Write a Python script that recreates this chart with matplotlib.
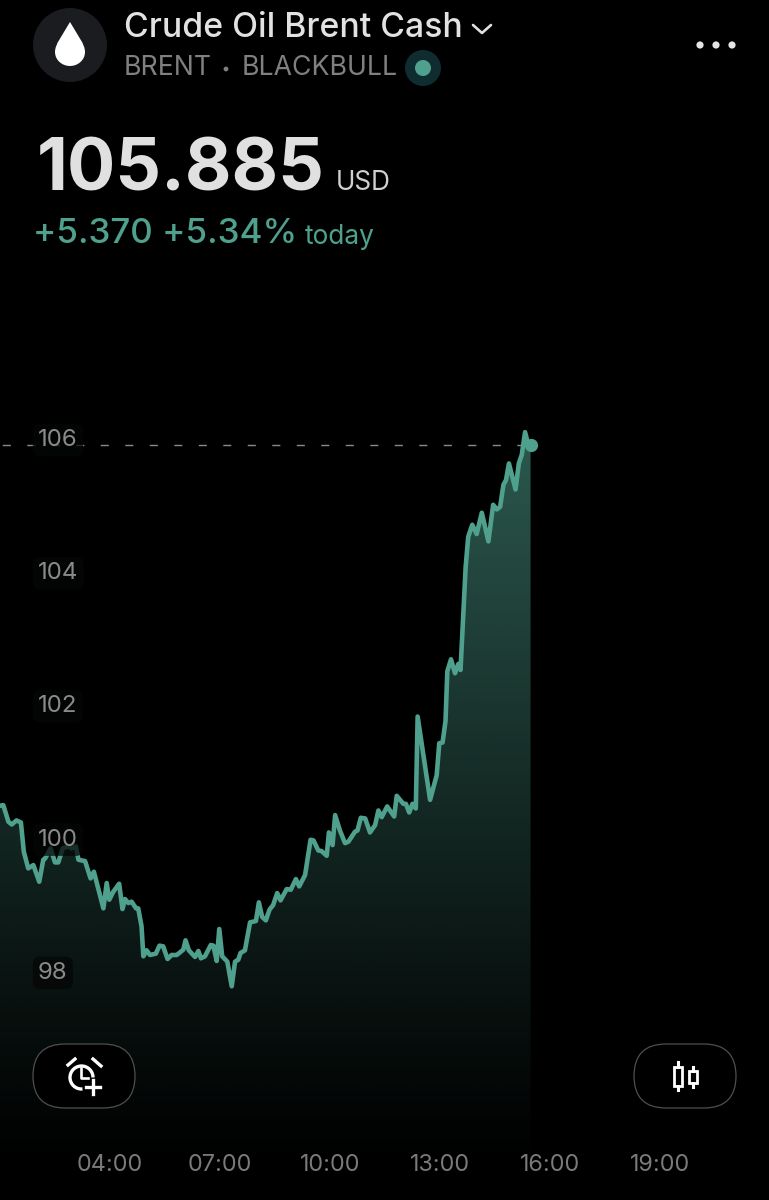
import numpy as np
import matplotlib
matplotlib.use("Agg")
import matplotlib.pyplot as plt
from matplotlib.patches import Circle, FancyBboxPatch, PathPatch, Rectangle, Arc
from matplotlib.path import Path

plt.rcParams['font.family'] = ['Inter', 'DejaVu Sans']

# ---------- data ----------
hours = [1.00,1.09,1.23,1.32,1.45,1.57,1.65,1.77,1.91,2.07,2.18,2.23,2.38,2.50,2.59,2.71,2.86,2.95,3.07,3.14,
         3.32,3.47,3.56,3.82,3.91,3.98,4.09,4.25,4.34,4.41,4.50,4.59,4.71,4.77,4.86,4.91,5.00,5.09,5.25,5.35,
         5.45,5.57,5.68,5.82,6.00,6.06,6.15,6.32,6.41,6.48,6.59,6.75,6.82,6.91,6.98,7.06,7.20,7.32,7.41,7.50,
         7.56,7.68,7.82,7.98,8.06,8.15,8.25,8.35,8.45,8.56,8.65,8.82,8.93,9.07,9.16,9.32,9.47,9.55,9.68,9.77,
         9.91,9.97,10.07,10.14,10.27,10.41,10.50,10.68,10.75,10.84,10.96,11.09,11.23,11.32,11.41,11.56,11.75,11.82,12.00,12.07,
         12.16,12.25,12.34,12.39,12.73,12.91,12.98,13.07,13.15,13.20,13.30,13.41,13.50,13.56,13.64,13.70,13.77,13.88,14.00,14.14,
         14.32,14.45,14.55,14.64,14.73,14.80,14.88,15.06,15.15,15.23,15.32,15.41,15.47]
prices = [100.47,100.48,100.23,100.19,100.25,100.22,99.78,99.53,99.58,99.33,99.66,99.68,99.83,99.62,99.62,99.83,99.86,99.83,99.86,99.66,
          99.64,99.38,99.48,98.93,99.31,99.06,99.18,99.30,98.92,99.07,99.01,99.03,98.93,98.93,98.66,98.21,98.30,98.23,98.25,98.37,
          98.36,98.17,98.23,98.23,98.31,98.45,98.30,98.20,98.29,98.18,98.21,98.38,98.37,98.14,98.62,98.21,98.13,97.76,98.13,98.16,
          98.26,98.30,98.72,98.74,99.02,98.80,98.75,98.91,98.98,99.16,99.05,99.22,99.21,99.37,99.26,99.43,99.96,99.95,99.80,99.79,
          99.72,100.07,99.88,100.33,100.10,99.91,99.93,100.08,100.10,100.29,100.28,100.07,100.18,100.40,100.30,100.46,100.31,100.62,100.50,100.50,
          100.37,100.50,100.43,101.81,100.56,100.93,101.41,101.42,101.74,102.49,102.67,102.46,102.60,102.51,103.41,104.06,104.51,104.69,104.55,104.87,
          104.44,104.99,104.92,104.96,105.29,105.36,105.61,105.22,105.61,105.74,106.08,105.89,105.885]
y_ticks = [98, 100, 102, 104, 106]
x_ticks = [4, 7, 10, 13, 16, 19]
x_labels = ['04:00', '07:00', '10:00', '13:00', '16:00', '19:00']
last_price = 105.885

title_text = 'Crude Oil Brent Cash'
sub_left = 'BRENT'
sub_right = 'BLACKBULL'
price_text = '105.885'
unit_text = 'USD'
change_text = '+5.370 +5.34%'
today_text = 'today'

GREEN = '#4fa18e'
W, H = 769, 1200
fig = plt.figure(figsize=(W/100, H/100), dpi=100, facecolor='black')

# ---------- chart ----------
ax = fig.add_axes([0, 0, 1, 1], facecolor='black')
px_per_hour = 110/3
px_per_unit = 66.6
xlim = (4 - 110/px_per_hour, 4 + (W-110)/px_per_hour)
ylim = (106 - (H-437.5)/px_per_unit, 106 + 437.5/px_per_unit)

poly = ax.fill_between(hours, prices, ylim[0], color='none', lw=0)
n = 256
grad = np.zeros((n, 1, 4))
grad[..., 0] = 0x4f/255; grad[..., 1] = 0xa1/255; grad[..., 2] = 0x8e/255
grad[:, 0, 3] = 0.56*np.linspace(1, 0, n)**1.1
im = ax.imshow(grad, extent=(hours[0], hours[-1], 95.0, 106.2), origin='upper', aspect='auto', zorder=1, interpolation='bilinear')
cp = Path(np.vstack(poly.get_paths()[0].vertices))
im.set_clip_path(cp, transform=ax.transData)

ax.plot([xlim[0], hours[-1]], [last_price, last_price], color='#8a8a8a', lw=1.0, linestyle=(16, (5.8, 11.84)), zorder=1.8)
ax.plot(hours, prices, color=GREEN, lw=3.3, solid_joinstyle='round', zorder=2)
ax.plot([hours[-1]], [last_price], 'o', color=GREEN, ms=9.5, mew=0, zorder=2.1)

ax.set_xlim(*xlim); ax.set_ylim(*ylim)
ax.set_axisbelow(False)
ax.set_yticks(y_ticks); ax.set_yticklabels([str(v) for v in y_ticks])
ax.set_xticks(x_ticks); ax.set_xticklabels(x_labels)
ax.tick_params(axis='y', length=0, pad=-27.4, labelsize=17.3, labelcolor='#8a8a8a')
ax.tick_params(axis='x', length=0, pad=-33, labelsize=16.8, labelcolor='#7a7a7a')
for lab in ax.get_yticklabels():
    lab.set_ha('left')
    lab.set_va('center_baseline')
    lab.set_bbox(dict(boxstyle='round,pad=0.22,rounding_size=0.3', fc=(0.02, 0.025, 0.025, 0.75), ec='none'))
for s in ax.spines.values():
    s.set_visible(False)

# ---------- interface overlay, in pixel coordinates ----------
ui = fig.add_axes([0, 0, 1, 1], facecolor='none')
ui.set_xlim(0, W); ui.set_ylim(H, 0); ui.axis('off')

ui.add_patch(Circle((70, 45), 37, fc='#1a1c1f', ec='none'))
drop = Path([(70, 22), (62, 36), (55, 44), (55, 52), (55, 60), (62, 66), (70, 66),
             (78, 66), (85, 60), (85, 52), (85, 44), (78, 36), (70, 22)],
            [Path.MOVETO] + [Path.CURVE4]*12)
ui.add_patch(PathPatch(drop, fc='white', ec='none'))

ui.text(124, 28, title_text, color='#e2e2e2', fontsize=24.3, fontweight='medium', va='center', ha='left')
ui.plot([473, 482, 491], [25, 33, 25], color='#e0e0e0', lw=1.9, solid_capstyle='round')
ui.text(124, 68, sub_left, color='#808080', fontsize=19.2, va='center', ha='left')
ui.add_patch(Circle((226, 69), 2.4, fc='#808080', ec='none'))
ui.text(242, 68, sub_right, color='#808080', fontsize=19.2, va='center', ha='left')
ui.add_patch(Circle((423, 68), 18, fc='#0f2c31', ec='none'))
ui.add_patch(Circle((423, 68), 8, fc=GREEN, ec='none'))
for cx in (700, 716, 732):
    ui.add_patch(Circle((cx, 45), 3.6, fc='#e4e4e4', ec='none'))

ui.text(37, 190.5, price_text, color='#e0e0e0', fontsize=51.6, fontweight='bold', va='baseline', ha='left')
ui.text(336, 190, unit_text, color='#d0d0d0', fontsize=18.8, va='baseline', ha='left')
ui.text(33, 243, change_text, color=GREEN, fontsize=25.2, fontweight='medium', va='baseline', ha='left')
ui.text(305, 244, today_text, color=GREEN, fontsize=18.9, va='baseline', ha='left')

# buttons
for x0 in (33, 634):
    ui.add_patch(FancyBboxPatch((x0+32, 1044+32), 102-64, 0, boxstyle='round,pad=32,rounding_size=32',
                                fc='black', ec='#4f4f4f', lw=0.9))
# alarm icon
ui.add_patch(Arc((81.5, 1077.5), 23, 23, angle=0, theta1=85, theta2=360, color='white', lw=2.4))
ui.plot([68, 75], [1065, 1059], color='white', lw=2.4)
ui.plot([93, 101], [1059, 1066], color='white', lw=2.4)
ui.plot([81, 81, 88], [1068, 1077.5, 1077.5], color='white', lw=1.9)
ui.plot([86, 100], [1087, 1087], color='white', lw=2.4)
ui.plot([93, 93], [1080, 1094], color='white', lw=2.4)
# candle icon
for cx, t, b, wt, wb in ((677.7, 1067, 1086, 1062, 1090), (692.7, 1071, 1083, 1067, 1087)):
    ui.plot([cx, cx], [wt, t], color='white', lw=2.2)
    ui.plot([cx, cx], [b, wb], color='white', lw=2.2)
    ui.add_patch(Rectangle((cx-4, t), 8, b-t, fc='none', ec='white', lw=2))

fig.savefig('out.png', dpi=100, facecolor='black')
